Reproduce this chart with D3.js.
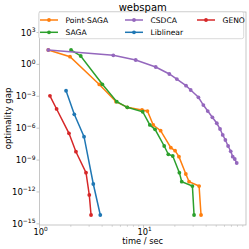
<!DOCTYPE html>
<html>
<head>
<meta charset="utf-8">
<script src="https://cdn.jsdelivr.net/npm/d3@7"></script>
<style>
  body { margin: 0; background: #fff; }
  text { font-family: "DejaVu Sans", sans-serif; fill: #000; }
</style>
</head>
<body>
<div id="chart"></div>
<script>
var svgWidth = 249;
var svgHeight = 249;

var margin = { top: 12, right: 3, bottom: 24, left: 39.5 };
var width = svgWidth - margin.left - margin.right;
var height = svgHeight - margin.top - margin.bottom;

// data: [time (sec), optimality gap]
var pointSagaTime = [1.215, 1.965, 3.76, 5.44, 6.98, 9.67, 10.9, 12.4, 14.6, 18.3, 20.1, 21.9, 25.5, 27.4, 34.2, 35.7];
var pointSagaGap  = [22.6, 5.3, 1.3e-2, 3.1e-4, 9.2e-5, 5.1e-5, 4.1e-5, 2.0e-6, 5.8e-7, 1.46e-8, 7.6e-9, 2.07e-9, 4.9e-11, 9.2e-12, 3.6e-12, 6.8e-15];

var sagaTime = [2.01, 2.49, 4.02, 5.53, 6.98, 9.82, 11.5, 12.9, 15.8, 17.3, 19.1, 22.1, 23.3, 29.5, 30.6];
var sagaGap  = [22.6, 6.2, 1.34e-2, 3.1e-4, 9.2e-5, 3.5e-5, 2.0e-6, 7.8e-7, 2.1e-8, 3.5e-9, 2.4e-9, 6.5e-11, 9.2e-12, 3.6e-12, 6.8e-15];

var csdcaTime = [1.215, 5.12, 8.41, 13.1, 17.7, 20.9, 25.6, 28.4, 33.7, 37.6, 41.4, 45.9, 50.6, 54.4, 57.7, 61.2, 65.0, 68.9, 72.0, 75.3, 78.7];
var csdcaGap  = [22.6, 7.2, 2.6, 0.57, 0.125, 0.042, 9.9e-3, 3.9e-3, 8e-4, 1.5e-4, 4.1e-5, 1.05e-5, 2.9e-6, 8.4e-7, 2.3e-7, 7.7e-8, 2.1e-8, 6.7e-9, 2.1e-9, 1.26e-9, 5.3e-10];

var liblinearTime = [1.80, 2.16, 2.68, 3.29, 3.84];
var liblinearGap  = [3.3e-3, 2.0e-5, 1.6e-7, 5.6e-12, 6.8e-15];

var genoTime = [1.26, 1.46, 1.92, 2.24, 2.80, 3.01, 3.13];
var genoGap  = [1.1e-3, 6.4e-5, 3.3e-7, 6.1e-9, 6.5e-11, 5.2e-13, 6.8e-15];

var seriesNames = ["Point-SAGA", "SAGA", "CSDCA", "Liblinear", "GENO"];
var seriesColors = ["#ff7f0e", "#2ca02c", "#9467bd", "#1f77b4", "#d62728"];
var seriesTimes = [pointSagaTime, sagaTime, csdcaTime, liblinearTime, genoTime];
var seriesGaps = [pointSagaGap, sagaGap, csdcaGap, liblinearGap, genoGap];

var xTicks = [1, 10];
var xMinorTicks = [2, 3, 4, 5, 6, 7, 8, 9, 20, 30, 40, 50, 60, 70, 80, 90];
var yTickExps = [-15, -12, -9, -6, -3, 0, 3];

var svg = d3.select("#chart")
  .append("svg")
  .attr("width", svgWidth)
  .attr("height", svgHeight);

var chartGroup = svg.append("g")
  .attr("transform", `translate(${margin.left}, ${margin.top})`);

var xLogScale = d3.scaleLog()
  .domain([1, Math.pow(10, 1.985)])
  .range([0, width]);

var yLogScale = d3.scaleLog()
  .domain([Math.pow(10, -15.11), Math.pow(10, 4.93)])
  .range([height, 0]);

// spines
var spineColor = "#b8b8b8";
chartGroup.append("rect")
  .attr("width", width)
  .attr("height", height)
  .attr("fill", "none")
  .attr("stroke", spineColor)
  .attr("stroke-width", 0.8);

// x ticks
chartGroup.selectAll(".xminor")
  .data(xMinorTicks)
  .enter()
  .append("line")
  .attr("x1", d => xLogScale(d))
  .attr("x2", d => xLogScale(d))
  .attr("y1", height)
  .attr("y2", height + 1.8)
  .attr("stroke", spineColor)
  .attr("stroke-width", 0.6);

chartGroup.selectAll(".xmajor")
  .data(xTicks)
  .enter()
  .append("line")
  .attr("x1", d => xLogScale(d))
  .attr("x2", d => xLogScale(d))
  .attr("y1", height)
  .attr("y2", height + 3)
  .attr("stroke", spineColor)
  .attr("stroke-width", 0.8);

var xLabels = chartGroup.selectAll(".xlabel")
  .data(xTicks)
  .enter()
  .append("text")
  .attr("x", d => xLogScale(d) + 1)
  .attr("y", height + 9.5)
  .attr("text-anchor", "middle")
  .attr("font-size", "8.3px");
xLabels.append("tspan").text("10");
xLabels.append("tspan")
  .attr("dy", "-3.3")
  .attr("font-size", "5.8px")
  .text(d => Math.round(Math.log10(d)));

// y ticks
chartGroup.selectAll(".ymajor")
  .data(yTickExps)
  .enter()
  .append("line")
  .attr("x1", -3)
  .attr("x2", 0)
  .attr("y1", d => yLogScale(Math.pow(10, d)))
  .attr("y2", d => yLogScale(Math.pow(10, d)))
  .attr("stroke", spineColor)
  .attr("stroke-width", 0.8);

var yLabels = chartGroup.selectAll(".ylabel")
  .data(yTickExps)
  .enter()
  .append("text")
  .attr("x", -4)
  .attr("y", d => yLogScale(Math.pow(10, d)) + 3)
  .attr("text-anchor", "end")
  .attr("font-size", "8.5px");
yLabels.append("tspan").text("10");
yLabels.append("tspan")
  .attr("dy", "-3.5")
  .attr("font-size", "6px")
  .text(d => d < 0 ? "\u2212" + Math.abs(d) : d);

// lines and markers
var line = d3.line()
  .x(d => xLogScale(d[0]))
  .y(d => yLogScale(d[1]));

seriesNames.forEach(function(name, i) {
  var pts = seriesTimes[i].map((t, j) => [t, seriesGaps[i][j]]);
  chartGroup.append("path")
    .datum(pts)
    .attr("d", line)
    .attr("fill", "none")
    .attr("stroke", seriesColors[i])
    .attr("stroke-width", 1.5);
  chartGroup.selectAll(".pt" + i)
    .data(pts)
    .enter()
    .append("circle")
    .attr("cx", d => xLogScale(d[0]))
    .attr("cy", d => yLogScale(d[1]))
    .attr("r", 1.9)
    .attr("fill", seriesColors[i]);
});

// legend
var legendGroup = svg.append("g");
legendGroup.append("rect")
  .attr("x", 38.7)
  .attr("y", 11.7)
  .attr("width", 205)
  .attr("height", 27)
  .attr("rx", 2)
  .attr("fill", "#fff")
  .attr("fill-opacity", 0.8)
  .attr("stroke", "#d0d0d0")
  .attr("stroke-width", 0.8);

var legendCols = [40, 125, 197];
var legendRows = [20, 32.3];
seriesNames.forEach(function(name, i) {
  // column-major order like matplotlib ncol=3
  var col = [0, 0, 1, 1, 2][i];
  var row = [0, 1, 0, 1, 0][i];
  var lx = legendCols[col];
  var ly = legendRows[row];
  legendGroup.append("line")
    .attr("x1", lx)
    .attr("x2", lx + 18)
    .attr("y1", ly)
    .attr("y2", ly)
    .attr("stroke", seriesColors[i])
    .attr("stroke-width", 1.5);
  legendGroup.append("circle")
    .attr("cx", lx + 9)
    .attr("cy", ly)
    .attr("r", 1.9)
    .attr("fill", seriesColors[i]);
  legendGroup.append("text")
    .attr("x", lx + 25.5)
    .attr("y", ly + 2.8)
    .attr("font-size", "7.6px")
    .text(name);
});

// title and axis labels
svg.append("text")
  .attr("x", margin.left + width / 2)
  .attr("y", 10.5)
  .attr("text-anchor", "middle")
  .attr("font-size", "10px")
  .text("webspam");

svg.append("text")
  .attr("x", margin.left + width / 2)
  .attr("y", 244)
  .attr("text-anchor", "middle")
  .attr("font-size", "8.3px")
  .text("time / sec");

svg.append("text")
  .attr("transform", `translate(11, ${margin.top + height / 2}) rotate(-90)`)
  .attr("text-anchor", "middle")
  .attr("font-size", "8.5px")
  .text("optimality gap");
</script>
</body>
</html>
